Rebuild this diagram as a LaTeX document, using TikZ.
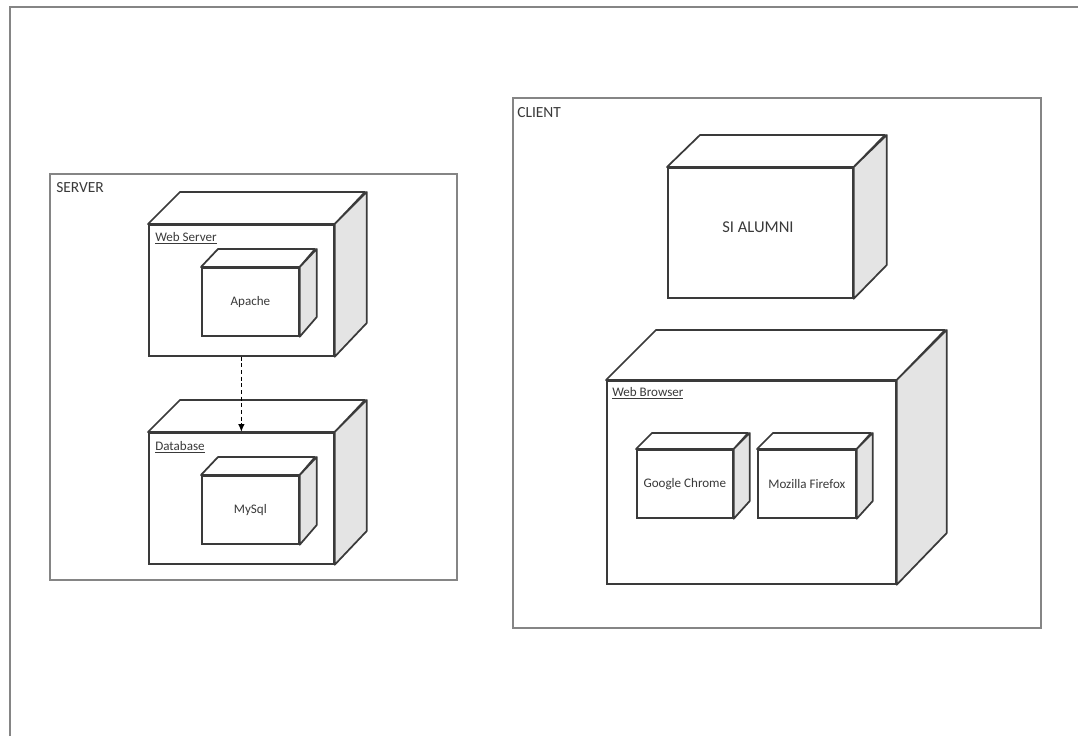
\documentclass[tikz,border=0pt]{standalone}
\usepackage{fontspec}
\setmainfont{Carlito}
\usetikzlibrary{arrows.meta}
\definecolor{edgecol}{HTML}{3A3A3A}
\definecolor{framecol}{HTML}{858585}
\definecolor{sidecol}{HTML}{E4E4E4}
\definecolor{txtcol}{HTML}{3A3A3A}
\tikzset{
  front/.style={draw=edgecol, line width=1.3pt, fill=white, inner sep=0pt, rectangle},
  edge/.style={draw=edgecol, line width=1.3pt, line join=round},
  frame/.style={draw=framecol, line width=1.2pt, inner sep=0pt, rectangle},
  biglabel/.style={inner sep=0pt, text=txtcol, font=\fontsize{11.6}{13}\selectfont},
  smalllabel/.style={inner sep=0pt, text=txtcol, font=\fontsize{9.8}{11}\selectfont},
  titlelabel/.style={inner sep=0pt, text=txtcol, font=\fontsize{12.4}{14}\selectfont},
  deparrow/.style={draw=black, line width=1.1pt, dash pattern=on 3pt off 2pt, -{Latex[length=6pt,width=5pt]}},
}
% name, x1, y1, x2, y2, dx, dy  (pixel units, y downward)
\newcommand\depnode[7]{%
  \pgfmathsetmacro\dnw{(#4-#2)*0.75}%
  \pgfmathsetmacro\dnh{(#5-#3)*0.75}%
  \pgfmathsetmacro\dnwp{#4-#2}%
  \pgfmathsetmacro\dnhp{#5-#3}%
  \node[front, minimum width=\dnw pt, minimum height=\dnh pt, anchor=north west] (#1) at (#2,#3) {};
  \path[edge, fill=white] (#1.north west) -- ++(#6,-#7) -- ++(\dnwp,0) -- (#1.north east) -- cycle;
  \path[edge, fill=sidecol] (#1.north east) -- ++(#6,-#7) -- ++(0,\dnhp) -- (#1.south east) -- cycle;
}
\newcommand\frameblock[5]{%
  \pgfmathsetmacro\dnw{(#4-#2)*0.75}%
  \pgfmathsetmacro\dnh{(#5-#3)*0.75}%
  \node[frame, minimum width=\dnw pt, minimum height=\dnh pt, anchor=north west] (#1) at (#2,#3) {};
}
\begin{document}
\begin{tikzpicture}[x=0.75pt, y=-0.75pt]
  \useasboundingbox[fill=white] (0,0) rectangle (1078,736);
  % outer sheet border (clipped by image edges)
  \draw[framecol, line width=1.2pt] (10,736) -- (10,7) -- (1078,7);

  % SERVER
  \frameblock{server}{49}{173}{456}{579}
  \node[biglabel, anchor=base west] (serverlbl) at (56,192) {SERVER};

  \depnode{webserver}{148}{224}{333}{355}{32}{32}
  \node[smalllabel, anchor=base west] (webserverlbl) at (155,241) {\underline{Web Server}};
  \depnode{apache}{201}{267}{298}{335}{17}{18}
  \node[smalllabel] (apachelbl) at (apache.center) {Apache};

  \depnode{database}{148}{432}{333}{563}{32}{32}
  \node[smalllabel, anchor=base west] (databaselbl) at (155,450) {\underline{Database}};
  \depnode{mysql}{201}{475}{298}{543}{17}{18}
  \node[smalllabel] (mysqllbl) at (mysql.center) {MySql};

  \draw[deparrow] (webserver.south) -- (database.north);

  % CLIENT
  \frameblock{client}{512}{97}{1040}{627}
  \node[biglabel, anchor=base west] (clientlbl) at (517,117) {CLIENT};

  \depnode{sialumni}{667}{167}{852}{297}{33}{32}
  \node[titlelabel] (sialumnilbl) at (758,227) {SI ALUMNI};

  \depnode{browser}{606}{380}{895}{583}{50}{50}
  \node[smalllabel, anchor=base west] (browserlbl) at (612,396) {\underline{Web Browser}};

  \depnode{chrome}{636}{449}{732}{517}{16}{16}
  \node[smalllabel] (chromelbl) at (chrome.center) {Google Chrome};
  \depnode{firefox}{757}{449}{855}{517}{16}{16}
  \node[smalllabel] (firefoxlbl) at (firefox.center) {Mozilla Firefox};
\end{tikzpicture}
\end{document}
